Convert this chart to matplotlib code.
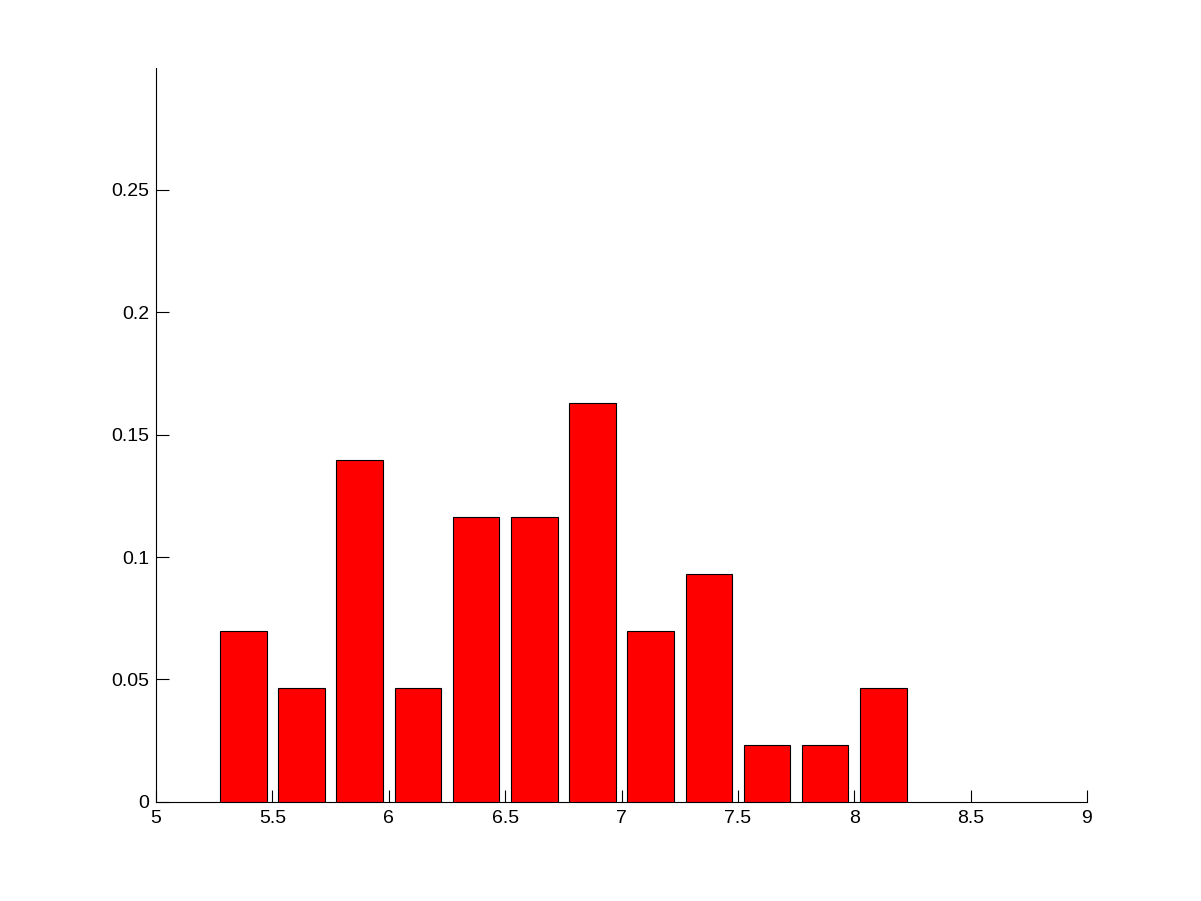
import numpy as np
import matplotlib
matplotlib.use("Agg")
import matplotlib.pyplot as plt

# --- DATA ---
bin_centers = [5.375, 5.625, 5.875, 6.125, 6.375, 6.625, 6.875, 7.125, 7.375, 7.625, 7.875, 8.125]
freqs = [0.0698, 0.0465, 0.1395, 0.0465, 0.1163, 0.1163, 0.1628, 0.0698, 0.0930, 0.0233, 0.0233, 0.0465]
x_ticks = [5, 5.5, 6, 6.5, 7, 7.5, 8, 8.5, 9]
y_ticks = [0, 0.05, 0.1, 0.15, 0.2, 0.25]

plt.rcParams['font.family'] = ['Liberation Sans', 'DejaVu Sans']

fig = plt.figure(figsize=(12.01, 9.01), dpi=100)
ax = fig.add_axes([0.13, 0.11, 0.775, 0.815])

ax.bar(bin_centers, freqs, width=0.2, color='#ff0000', edgecolor='black', linewidth=0.8, zorder=3)

ax.set_xlim(5, 9)
ax.set_ylim(0, 0.2999)
ax.set_xticks(x_ticks)
ax.set_xticklabels([f"{t:g}" for t in x_ticks])
ax.set_yticks(y_ticks)
ax.set_yticklabels([f"{t:g}" for t in y_ticks])

ax.spines['top'].set_visible(False)
ax.spines['right'].set_visible(False)
for s in ('left', 'bottom'):
    ax.spines[s].set_linewidth(0.8)
ax.tick_params(direction='in', length=9, width=0.8, labelsize=14)
ax.tick_params(axis='x', pad=6)
ax.tick_params(axis='y', pad=5)

fig.savefig("out.png", dpi=100)
